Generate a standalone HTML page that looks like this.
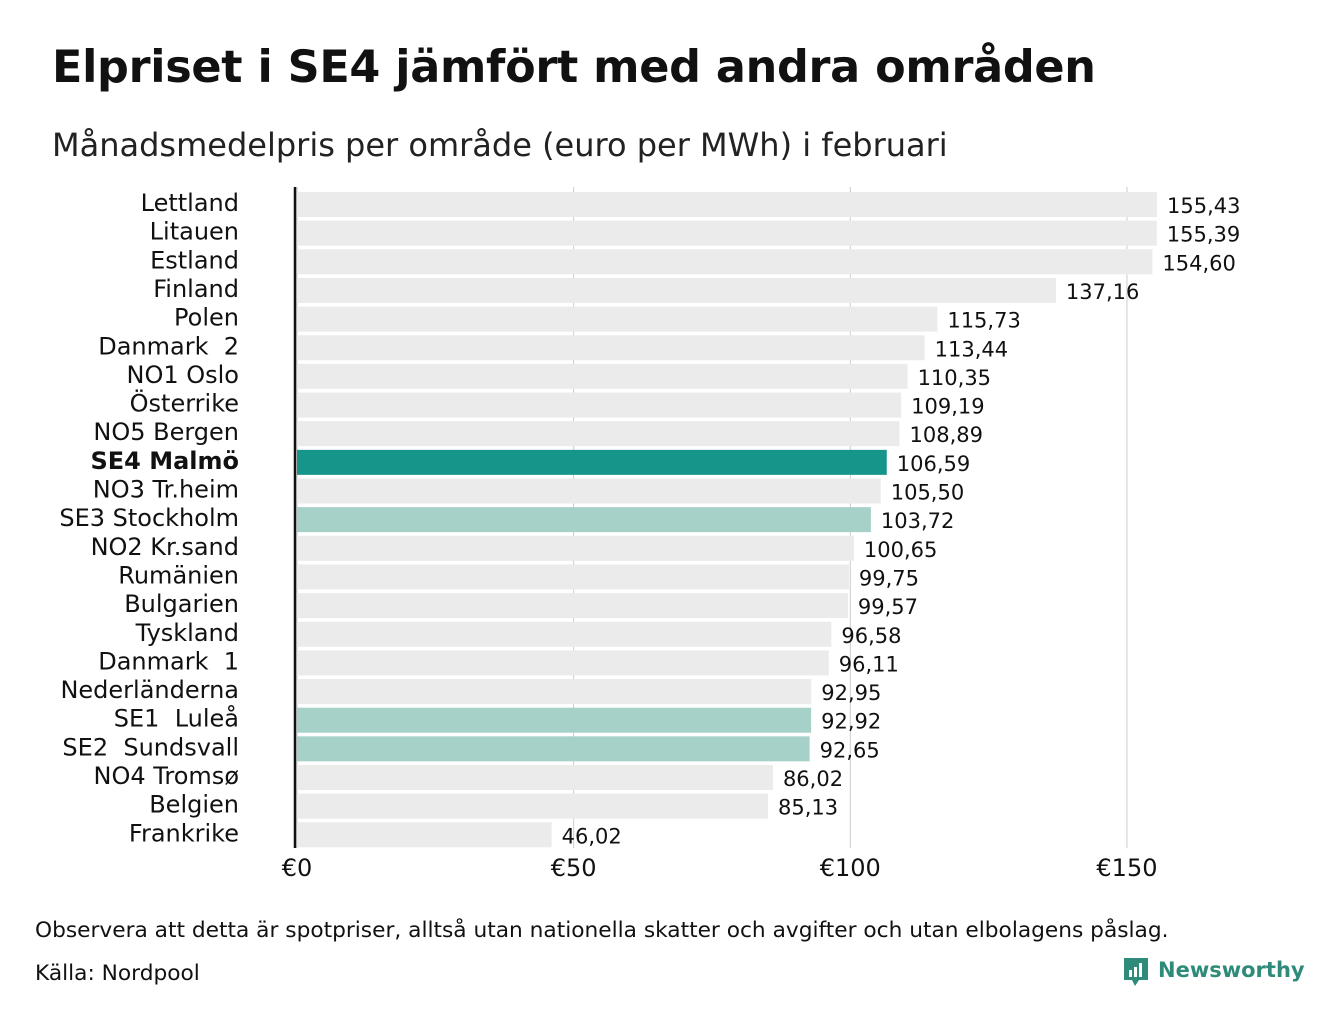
<!DOCTYPE html>
<html><head><meta charset="utf-8"><style>
body{margin:0;background:#fff;font-family:"DejaVu Sans","Liberation Sans",sans-serif;color:#111}
#wrap{position:relative;width:1340px;height:1020px;overflow:hidden}
h1{position:absolute;left:52px;top:42px;margin:0;font-size:44.5px;font-weight:bold;letter-spacing:-0.3px}
.sub{position:absolute;left:52px;top:126px;font-size:32px;color:#222}
.note{position:absolute;left:35px;font-size:21.7px;color:#111}
</style></head><body>
<div id="wrap">
<h1>Elpriset i SE4 jämfört med andra områden</h1>
<div class="sub">Månadsmedelpris per område (euro per MWh) i februari</div>
<svg id="chart" width="1340" height="900" style="position:absolute;left:0;top:0"></svg>
<div class="note" style="top:918px">Observera att detta är spotpriser, alltså utan nationella skatter och avgifter och utan elbolagens påslag.</div>
<div class="note" style="top:961px">Källa: Nordpool</div>
<div style="position:absolute;left:1122px;top:956px;display:flex;align-items:center">
<svg width="28" height="34" viewBox="0 0 28 34"><path d="M2 2h24v22h-9l-4 6-3-6H2z" fill="#2e8b7a"/><rect x="7" y="14" width="3" height="7" fill="#fff"/><rect x="12" y="11" width="3" height="10" fill="#fff"/><rect x="17" y="7" width="3" height="14" fill="#fff"/></svg>
<span style="font-size:21px;font-weight:bold;color:#2e8b7a;margin-left:8px;margin-top:-6px">Newsworthy</span></div>
</div>
<script>
const categories=["Lettland","Litauen","Estland","Finland","Polen","Danmark  2","NO1 Oslo","Österrike","NO5 Bergen","SE4 Malmö","NO3 Tr.heim","SE3 Stockholm","NO2 Kr.sand","Rumänien","Bulgarien","Tyskland","Danmark  1","Nederländerna","SE1  Luleå","SE2  Sundsvall","NO4 Tromsø","Belgien","Frankrike"];
const values=[155.43,155.39,154.60,137.16,115.73,113.44,110.35,109.19,108.89,106.59,105.50,103.72,100.65,99.75,99.57,96.58,96.11,92.95,92.92,92.65,86.02,85.13,46.02];
const highlight=["none","none","none","none","none","none","none","none","none","main","none","se","none","none","none","none","none","none","se","se","none","none","none"];
const ticks=[0,50,100,150];
const svg=document.getElementById('chart');const NS='http://www.w3.org/2000/svg';
const x0=297,k=5.533,y0=192,pitch=28.65,bh=25;
const X=v=>x0+v*k, Y=i=>y0+i*pitch;
function el(t,a){const e=document.createElementNS(NS,t);for(const n in a)e.setAttribute(n,a[n]);svg.appendChild(e);return e;}
ticks.forEach(t=>{
 const l=el('line',{x1:X(t),x2:X(t),y1:187,y2:848,stroke:'#ccc','stroke-width':1});
 
 
 const tx=el('text',{x:X(t),y:876,'font-size':24,'text-anchor':'middle',fill:'#111','font-family':'DejaVu Sans, Liberation Sans, sans-serif'});
 tx.textContent='€'+t;
 
 
});
values.forEach((v,i)=>{
 const c=highlight[i]=='main'?'#16958a':highlight[i]=='se'?'#a6d1c8':'#ebebeb';
 const r=el('rect',{x:x0,y:Y(i),width:X(v)-x0,height:bh,fill:c});
 
 
});
values.forEach((v,i)=>{
 const tv=el('text',{x:X(v)+10,y:Y(i)+21,'font-size':21,fill:'#111','font-family':'DejaVu Sans, Liberation Sans, sans-serif'});
 tv.textContent=v.toFixed(2).replace('.',',');
 
 
 const tl=el('text',{x:239,y:Y(i)+19,'font-size':24,'text-anchor':'end',fill:'#111','font-weight':highlight[i]=='main'?'bold':'normal','font-family':'DejaVu Sans, Liberation Sans, sans-serif'});
 tl.textContent=categories[i];
 tl.style.whiteSpace='pre';
 
 
});
const ax=el('line',{x1:295,x2:295,y1:187,y2:848,stroke:'#111','stroke-width':2.5});


</script>
</body></html>
